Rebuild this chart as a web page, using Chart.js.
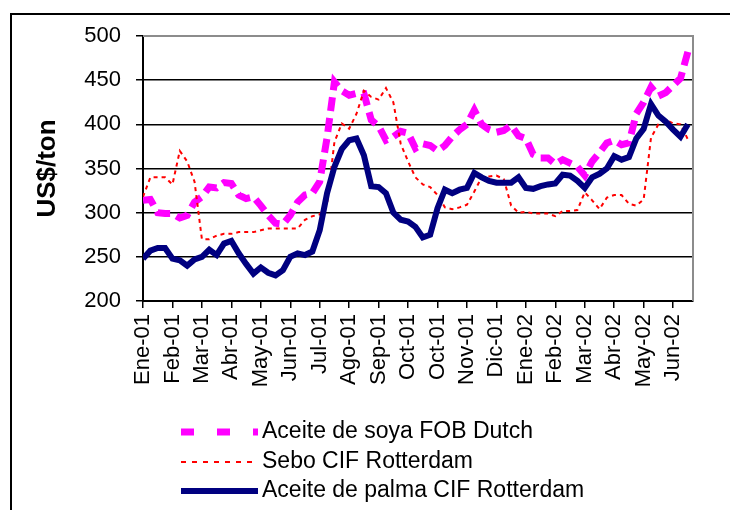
<!DOCTYPE html>
<html>
<head>
<meta charset="utf-8">
<script src="https://cdn.jsdelivr.net/npm/chart.js@4/dist/chart.umd.min.js"></script>
<style>
  html, body { margin: 0; padding: 0; background: #fff; }
  canvas { display: block; }
</style>
</head>
<body>
<canvas id="precios" width="730" height="510"></canvas>
<script>
// x axis labels, one every 4 data points (weekly-ish series)
const tickLabels = ['Ene-01', 'Feb-01', 'Mar-01', 'Abr-01', 'May-01', 'Jun-01', 'Jul-01', 'Ago-01', 'Sep-01',
  'Oct-01', 'Oct-01', 'Nov-01', 'Dic-01', 'Ene-02', 'Feb-02', 'Mar-02', 'Abr-02', 'May-02', 'Jun-02'];
const pointsPerLabel = 4;
const yTicks = [200, 250, 300, 350, 400, 450, 500];

const seriesNames = ['Aceite de soya FOB Dutch', 'Sebo CIF Rotterdam', 'Aceite de palma CIF Rotterdam'];

const soya = [314, 315, 300, 299, 299, 294, 297, 312, 318, 329,
  328, 334, 333, 320, 316, 318, 308, 297, 288, 287,
  297, 312, 320, 322, 335, 385, 448, 438, 433, 435,
  435, 405, 398, 382, 386, 392, 390, 373, 378, 376,
  370, 376, 386, 394, 400, 416, 400, 394, 391, 393,
  399, 387, 384, 366, 362, 362, 355, 360, 356, 352,
  342, 358, 368, 379, 382, 377, 379, 412, 425, 442,
  432, 436, 444, 452, 482];

const sebo = [318, 340, 340, 340, 332, 370, 358, 335, 270, 270,
  274, 276, 276, 278, 278, 278, 280, 282, 282, 282,
  282, 282, 292, 296, 298, 310, 380, 401, 395, 412,
  438, 431, 428, 441, 425, 378, 358, 340, 332, 329,
  320, 306, 304, 306, 309, 324, 340, 341, 342, 338,
  308, 300, 301, 299, 299, 299, 296, 302, 302, 303,
  323, 314, 304, 317, 320, 320, 310, 308, 315, 385,
  400, 405, 401, 400, 383];

const palma = [248, 257, 260, 260, 248, 246, 240, 247, 250, 258,
  252, 265, 268, 254, 242, 231, 238, 232, 229, 235,
  250, 254, 252, 256, 280, 322, 352, 372, 382, 384,
  365, 330, 329, 322, 300, 292, 290, 284, 272, 275,
  305, 326, 322, 326, 328, 345, 340, 336, 334, 334,
  334, 340, 328, 327, 330, 332, 333, 343, 342, 336,
  328, 340, 344, 350, 364, 360, 363, 384, 395, 423,
  410, 403, 394, 386, 400];

const toXY = arr => arr.map((v, i) => ({x: i, y: v}));

const styles = [
  {color: '#ff00ff', width: 7, dash: [14, 7], legendDash: [13, 23]},
  {color: '#ff0000', width: 2, dash: [4, 4], legendDash: [5, 6]},
  {color: '#000080', width: 6, dash: [], legendDash: []}
];

// white background, outer frame, gray plot border and the legend
const framePlugin = {
  id: 'frame',
  beforeDraw(chart) {
    const c = chart.ctx;
    c.save();
    c.fillStyle = '#fff';
    c.fillRect(0, 0, chart.width, chart.height);
    c.restore();
  },
  afterDraw(chart) {
    const c = chart.ctx;
    const a = chart.chartArea;
    c.save();
    c.strokeStyle = '#000';
    c.lineWidth = 2;
    c.beginPath();
    c.moveTo(11, chart.height);
    c.lineTo(11, 14);
    c.lineTo(chart.width, 14);
    c.stroke();

    c.strokeStyle = '#8c8c8c';
    c.lineWidth = 2;
    c.beginPath();
    c.moveTo(a.left, a.top);
    c.lineTo(a.right, a.top);
    c.lineTo(a.right, a.bottom);
    c.stroke();

    const rows = [432, 462, 491];
    c.font = '23px "Liberation Sans", Arial, sans-serif';
    c.textBaseline = 'middle';
    c.fillStyle = '#000';
    seriesNames.forEach((name, i) => {
      const s = styles[i];
      c.strokeStyle = s.color;
      c.lineWidth = s.width;
      c.lineCap = 'butt';
      c.setLineDash(s.legendDash);
      c.beginPath();
      c.moveTo(181, rows[i]);
      c.lineTo(258, rows[i]);
      c.stroke();
      c.setLineDash([]);
      c.fillText(name, 262, rows[i]);
    });
    c.restore();
  }
};

new Chart(document.getElementById('precios'), {
  type: 'line',
  data: {
    datasets: [
      {label: seriesNames[0], data: toXY(soya), order: 3},
      {label: seriesNames[1], data: toXY(sebo), order: 2},
      {label: seriesNames[2], data: toXY(palma), order: 1}
    ].map((d, i) => ({
      ...d,
      borderColor: styles[i].color,
      backgroundColor: styles[i].color,
      borderWidth: styles[i].width,
      borderDash: styles[i].dash,
      pointRadius: 0,
      tension: 0,
      fill: false
    }))
  },
  options: {
    responsive: false,
    animation: false,
    layout: {padding: {top: 36, right: 37, left: 0, bottom: 0}},
    plugins: {legend: {display: false}, tooltip: {enabled: false}},
    scales: {
      x: {
        type: 'linear',
        min: 0,
        max: 74.7,
        afterFit: s => { s.height = 209; },
        // one tick per label, every pointsPerLabel data points
        afterBuildTicks: s => {
          s.ticks = tickLabels.map((_, i) => ({value: i * pointsPerLabel}));
        },
        ticks: {
          autoSkip: false,
          minRotation: 90,
          maxRotation: 90,
          padding: 6,
          color: '#000',
          font: {family: '"Liberation Sans", Arial, sans-serif', size: 22},
          callback: v => tickLabels[Math.round(v / pointsPerLabel)] || ''
        },
        grid: {drawOnChartArea: false, drawTicks: true, tickLength: 7, color: '#000', lineWidth: 1.5},
        border: {color: '#000', width: 2}
      },
      y: {
        min: 200,
        max: 500,
        afterFit: s => { s.width = 143; },
        afterBuildTicks: s => { s.ticks = yTicks.map(v => ({value: v})); },
        ticks: {
          color: '#000',
          padding: 15,
          font: {family: '"Liberation Sans", Arial, sans-serif', size: 22}
        },
        grid: {
          color: ctx => (ctx.tick && ctx.tick.value === 500) ? '#8c8c8c' : '#000',
          tickColor: '#000',
          lineWidth: 1.5,
          tickLength: 7
        },
        border: {color: '#000', width: 2},
        title: {
          display: true,
          text: 'US$/ton',
          color: '#000',
          padding: {top: 32, bottom: 0},
          font: {family: '"Liberation Sans", Arial, sans-serif', size: 26, weight: 'bold'}
        }
      }
    }
  },
  plugins: [framePlugin]
});
</script>
</body>
</html>
